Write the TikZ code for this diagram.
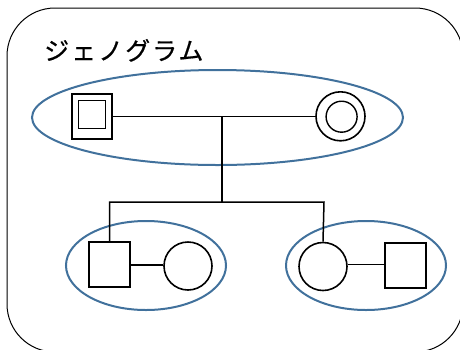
\documentclass[tikz,border=0pt]{standalone}
\usepackage{fontspec}
\newfontfamily\jpfont{Noto Sans CJK JP}
\definecolor{ellblue}{HTML}{41719C}
\begin{document}
\begin{tikzpicture}[x=1pt,y=-1pt,
  blk/.style={draw=black,line width=1.6pt},
  sq/.style={blk,rectangle,minimum width=41pt,minimum height=45pt,inner sep=0pt},
  cir/.style={blk,circle,minimum size=48pt,inner sep=0pt},
  grp/.style={draw=ellblue,line width=2pt},
  lnk/.style={draw=black,line width=1.5pt}]
\useasboundingbox (0,0) rectangle (460,349);
\begin{scope}
\clip (0,0) rectangle (460,349);
\draw[line width=1pt,rounded corners=48pt] (7,8) rectangle (463,352);
\end{scope}
\node[anchor=base west,inner sep=0pt,font=\jpfont\fontsize{25}{25}\selectfont\addfontfeature{LetterSpace=8,FakeBold=0.6}] (title) at (44,60) {ジェノグラム};
% top group
\draw[grp] (217.5,117.5) ellipse [x radius=185.5, y radius=47.5];
\node[sq,minimum width=40pt,minimum height=45pt] (gf) at (91.7,116.3) {};
\node[blk,rectangle,minimum width=27pt,minimum height=28pt,inner sep=0pt,line width=1.4pt] (gfi) at (91.7,114.2) {};
\node[cir,minimum size=49pt] (gm) at (340.5,116.3) {};
\node[blk,circle,minimum size=31pt,inner sep=0pt,line width=1.4pt] (gmi) at (341.6,116.7) {};
\coordinate (mid) at (222,116.5);
\coordinate (sib) at (222,202);
\draw[lnk] (gf.east |- mid) -- (gm.west |- mid);
\draw[lnk] (mid) -- (sib);
% bottom groups
\draw[grp] (146,265.5) ellipse [x radius=80, y radius=44.5];
\draw[grp] (366,265.5) ellipse [x radius=80, y radius=44.5];
\node[sq] (s1) at (109.5,264.5) {};
\node[cir] (w1) at (188,266) {};
\node[cir] (d1) at (323,266.5) {};
\node[sq] (h1) at (405.5,265.5) {};
\draw[line width=1.1pt] (s1.east |- 0,265) -- (w1.west |- 0,265);
\draw[line width=1.1pt] (d1.east |- 0,264.5) -- (h1.west |- 0,264.5);
\coordinate (lt) at (109.5,202);
\coordinate (rt) at (324,202);
\draw[lnk] (s1.north) -- (lt) -- (rt) -- (d1.north);
\end{tikzpicture}
\end{document}
